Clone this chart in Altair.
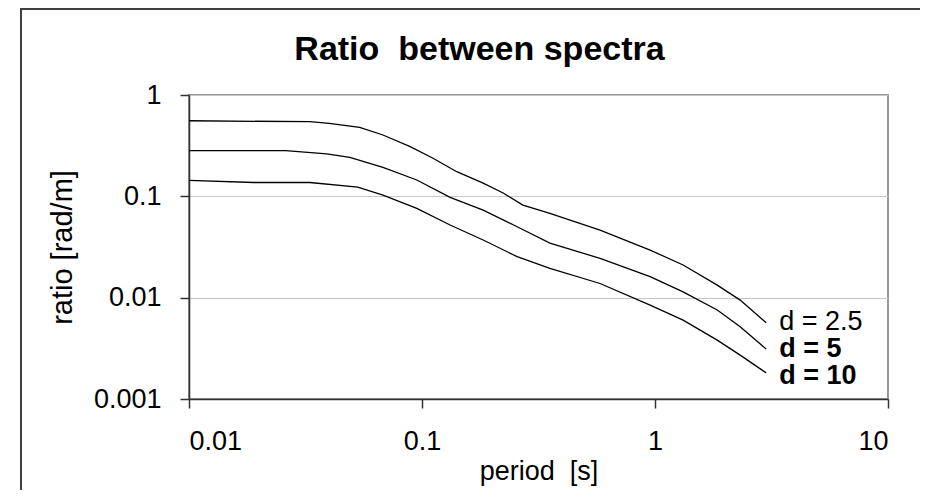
import altair as alt
import pandas as pd

# ---- data ----
d25_period = [0.01, 0.033, 0.040, 0.054, 0.068, 0.089, 0.111, 0.141, 0.183, 0.223, 0.271, 0.354, 0.581, 0.953, 1.32, 1.85, 2.32, 3.0]
d25_ratio = [0.557, 0.545, 0.526, 0.480, 0.403, 0.309, 0.239, 0.175, 0.135, 0.108, 0.082, 0.0679, 0.0465, 0.0295, 0.0210, 0.0133, 0.00946, 0.00565]

d5_period = [0.01, 0.026, 0.039, 0.049, 0.068, 0.095, 0.132, 0.183, 0.256, 0.354, 0.581, 0.953, 1.32, 1.85, 2.32, 3.0]
d5_ratio = [0.282, 0.282, 0.262, 0.242, 0.193, 0.145, 0.0977, 0.0732, 0.0501, 0.0346, 0.0244, 0.0161, 0.0114, 0.00755, 0.00516, 0.00311]

d10_period = [0.01, 0.019, 0.033, 0.053, 0.068, 0.095, 0.132, 0.183, 0.256, 0.354, 0.581, 0.953, 1.32, 1.85, 2.32, 3.0]
d10_ratio = [0.144, 0.137, 0.137, 0.123, 0.103, 0.0761, 0.0521, 0.0371, 0.0254, 0.0195, 0.0138, 0.00845, 0.00601, 0.00381, 0.00271, 0.00181]

series_labels = ["d = 2.5", "d = 5", "d = 10"]
x_ticks = [0.01, 0.1, 1, 10]
y_ticks = [0.001, 0.01, 0.1, 1]

title_text = "Ratio\u00a0 between spectra"
x_title = "period\u00a0 [s]"
y_title = "ratio [rad/m]"

# ---- build tables ----
rows = []
for lab, ps, rs in zip(series_labels, [d25_period, d5_period, d10_period], [d25_ratio, d5_ratio, d10_ratio]):
    for i, (p, r) in enumerate(zip(ps, rs)):
        rows.append({"series": lab, "period": p, "ratio": r, "order": i})
df = pd.DataFrame(rows)
ends = df.loc[df.groupby("series")["order"].idxmax()].reset_index(drop=True)

FONT = "Liberation Sans"

x_enc = alt.X("period:Q", scale=alt.Scale(type="log", domain=[0.01, 10], nice=False),
              axis=alt.Axis(values=x_ticks, format="~g", grid=False, title=x_title,
                            tickSize=9, labelPadding=20, titlePadding=4))
y_enc = alt.Y("ratio:Q", scale=alt.Scale(type="log", domain=[0.001, 1], nice=False),
              axis=alt.Axis(values=y_ticks, format="~g", grid=True, title=y_title,
                            tickSize=9, labelPadding=19, titlePadding=16,
                            titleFontSize=29))

lines = alt.Chart(df).mark_line(color="black", strokeWidth=1.3, clip=False).encode(
    x=x_enc, y=y_enc, detail="series:N", order="order:Q"
)


def end_label(name, weight, dy):
    return alt.Chart(ends).transform_filter(alt.datum.series == name).mark_text(
        align="left", baseline="middle", dx=13, dy=dy, fontSize=27, font=FONT,
        fontWeight=weight, color="black"
    ).encode(x="period:Q", y="ratio:Q", text="series:N")


lab_a = end_label("d = 2.5", "normal", -1)
lab_b = end_label("d = 5", "bold", 0)
lab_c = end_label("d = 10", "bold", 3)

frame = alt.Chart(pd.DataFrame({"a": [0]})).mark_rect(
    filled=False, stroke="#404040", strokeWidth=2, clip=False
).encode(x=alt.value(-168), y=alt.value(-86), x2=alt.value(760), y2=alt.value(420))

chart = alt.layer(frame, lines, lab_a, lab_b, lab_c).properties(
    width=699, height=304,
    background="white",
    title=alt.TitleParams(title_text, anchor="middle", dx=-59, offset=-86,
                          baseline="alphabetic", font=FONT, fontSize=34,
                          fontWeight="bold", color="black"),
    autosize=alt.AutoSizeParams(type="none"),
    padding={"left": 181, "top": 87, "right": 32, "bottom": 91},
).configure_view(
    stroke="#999999", strokeWidth=2
).configure_axis(
    domainColor="#333333", domainWidth=1.5, tickColor="#333333", tickWidth=1.5,
    labelFont=FONT, labelFontSize=27, labelColor="black",
    titleFont=FONT, titleFontSize=27, titleFontWeight="normal", titleColor="black",
    gridColor="#c8c8c8", gridWidth=1
)

chart.save("out.html", embed_options={"renderer": "svg", "actions": False})
